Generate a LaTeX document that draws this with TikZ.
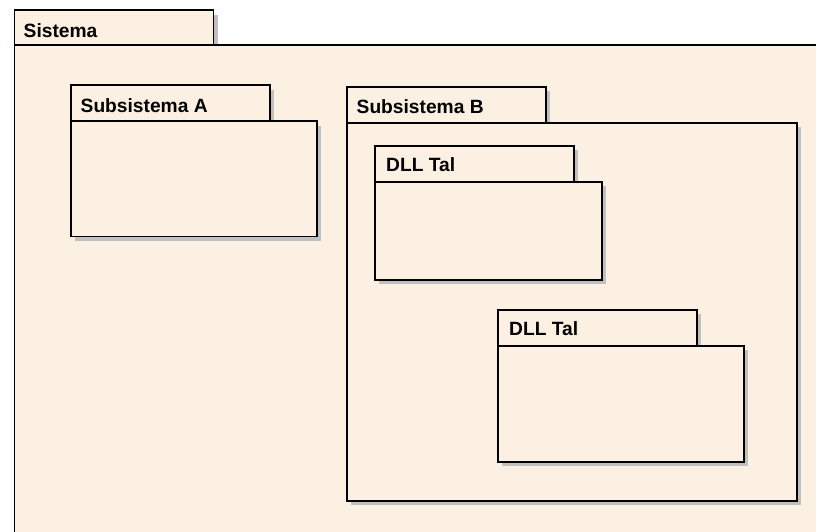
\documentclass[tikz,border=0pt]{standalone}
\usepackage{fontspec}
\setmainfont{Liberation Sans}
\usetikzlibrary{shadows,calc}

\definecolor{pkgfill}{RGB}{251,240,226}
\definecolor{pkgshadow}{RGB}{192,192,192}

\tikzset{
  pkgshape/.style={draw=black, fill=pkgfill, line width=1.8pt, inner sep=0pt,
    anchor=north west, rectangle,
    drop shadow={shadow xshift=4.5pt, shadow yshift=-4.5pt, fill=pkgshadow, opacity=1}},
  pkgtab/.style={pkgshape, minimum width=199pt, minimum height=36pt},
  pkglabel/.style={anchor=base west, inner sep=0pt,
    font=\fontsize{19.2}{21}\selectfont\bfseries}
}

\begin{document}
\begin{tikzpicture}[x=1pt, y=-1pt]
  \useasboundingbox (0,0) rectangle (816,532);
  \fill[white] (0,0) rectangle (816,532);
  \clip (0,0) rectangle (816,532);

  % Sistema (runs past the page edges)
  \node[pkgtab] (sis-tab) at (13.5,9.5) {};
  \node[pkgshape, minimum width=840pt, minimum height=520pt] (sis-body) at (13.5,44.3) {};
  \node[pkglabel] (sis-lbl) at ($(sis-tab.south west)+(10,-10)$) {Sistema};

  % Subsistema A
  \node[pkgtab] (sa-tab) at (70,84.5) {};
  \node[pkgshape, minimum width=246pt, minimum height=115pt] (sa-body) at (70,120.5) {};
  \node[pkglabel] (sa-lbl) at ($(sa-tab.south west)+(10.5,-10)$) {Subsistema A};

  % Subsistema B
  \node[pkgtab] (sb-tab) at (346,86) {};
  \node[pkgshape, minimum width=450pt, minimum height=378pt] (sb-body) at (346,122) {};
  \node[pkglabel] (sb-lbl) at ($(sb-tab.south west)+(10.5,-10)$) {Subsistema B};

  % DLL Tal (upper)
  \node[pkgtab] (d1-tab) at (374,145) {};
  \node[pkgshape, minimum width=227pt, minimum height=98pt] (d1-body) at (374,181) {};
  \node[pkglabel] (d1-lbl) at ($(d1-tab.south west)+(12,-11)$) {DLL Tal};

  % DLL Tal (lower)
  \node[pkgtab] (d2-tab) at (497,309) {};
  \node[pkgshape, minimum width=246pt, minimum height=116pt] (d2-body) at (497,345) {};
  \node[pkglabel] (d2-lbl) at ($(d2-tab.south west)+(12,-11)$) {DLL Tal};
\end{tikzpicture}
\end{document}
